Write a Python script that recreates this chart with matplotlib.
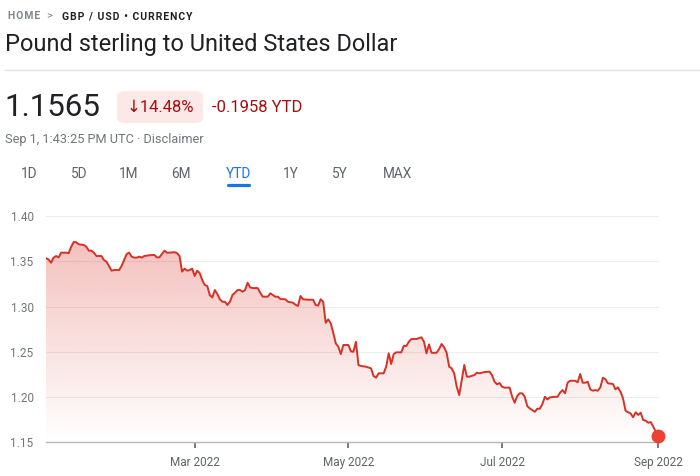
"""GBP/USD year-to-date chart, styled like the Google Finance quote page."""

import numpy as np
import pandas as pd
import matplotlib
matplotlib.use('Agg')
import matplotlib.pyplot as plt
import matplotlib.dates as mdates
from matplotlib.patches import FancyBboxPatch
from matplotlib.lines import Line2D

plt.rcParams['font.family'] = ['Roboto', 'DejaVu Sans']

# days since 2022-01-01 and GBP/USD rate
days = [0, 1, 2, 3, 4, 5, 6, 8, 9, 10, 11, 12, 13, 15, 16, 17, 18, 19, 20, 22,
        23, 24, 25, 26, 27, 29, 30, 31, 32, 33, 34, 35, 36, 37, 38, 39, 41, 43,
        44, 45, 46, 47, 48, 49, 51, 52, 53, 54, 55, 56, 57, 58, 59, 60, 61, 62,
        63, 64, 65, 66, 67, 68, 69, 70, 71, 72, 73, 74, 75, 76, 77, 78, 79, 80,
        81, 82, 84, 85, 86, 88, 89, 90, 91, 92, 93, 95, 96, 98, 99, 100, 101,
        102, 104, 106, 107, 108, 109, 110, 111, 112, 113, 114, 115, 116, 117,
        118, 120, 121, 122, 123, 124, 125, 127, 129, 130, 131, 132, 134, 135,
        136, 137, 138, 139, 141, 142, 143, 144, 145, 147, 149, 150, 151, 152,
        153, 155, 156, 157, 158, 159, 160, 161, 162, 163, 164, 165, 166, 167,
        168, 170, 171, 172, 174, 176, 177, 178, 179, 180, 181, 182, 184, 185,
        186, 187, 188, 189, 190, 191, 192, 194, 195, 196, 197, 198, 199, 200,
        202, 203, 204, 205, 206, 207, 208, 210, 211, 212, 213, 214, 215, 216,
        217, 218, 219, 220, 221, 222, 223, 225, 226, 227, 228, 229, 230, 231,
        232, 233, 234, 235, 236, 237, 238, 239, 240, 241, 242, 243]
rates = [1.3533, 1.3520, 1.3484, 1.3540, 1.3558, 1.3543, 1.3595, 1.3595, 1.3590,
         1.3660, 1.3713, 1.3710, 1.3687, 1.3680, 1.3660, 1.3617, 1.3617, 1.3595,
         1.3558, 1.3558, 1.3514, 1.3495, 1.3448, 1.3396, 1.3403, 1.3403, 1.3448,
         1.3514, 1.3580, 1.3595, 1.3551, 1.3540, 1.3540, 1.3551, 1.3540, 1.3558,
         1.3566, 1.3570, 1.3543, 1.3543, 1.3580, 1.3617, 1.3595, 1.3595, 1.3600,
         1.3590, 1.3558, 1.3385, 1.3419, 1.3396, 1.3403, 1.3419, 1.3337, 1.3396,
         1.3370, 1.3293, 1.3238, 1.3227, 1.3127, 1.3100, 1.3182, 1.3138, 1.3080,
         1.3053, 1.3053, 1.3017, 1.3053, 1.3127, 1.3153, 1.3182, 1.3182, 1.3164,
         1.3182, 1.3263, 1.3212, 1.3204, 1.3204, 1.3153, 1.3109, 1.3109, 1.3146,
         1.3127, 1.3109, 1.3109, 1.3083, 1.3080, 1.3053, 1.3042, 1.3020, 1.3006,
         1.3116, 1.3080, 1.3075, 1.3075, 1.3017, 1.3010, 1.3080, 1.3053, 1.2820,
         1.2858, 1.2814, 1.2710, 1.2593, 1.2556, 1.2475, 1.2575, 1.2575, 1.2506,
         1.2500, 1.2611, 1.2354, 1.2343, 1.2335, 1.2317, 1.2232, 1.2214, 1.2262,
         1.2262, 1.2335, 1.2483, 1.2365, 1.2475, 1.2494, 1.2494, 1.2567, 1.2564,
         1.2611, 1.2641, 1.2641, 1.2660, 1.2611, 1.2483, 1.2582, 1.2489, 1.2489,
         1.2530, 1.2586, 1.2549, 1.2489, 1.2335, 1.2317, 1.2262, 1.2114, 1.2022,
         1.2188, 1.2354, 1.2225, 1.2225, 1.2243, 1.2269, 1.2262, 1.2276, 1.2280,
         1.2243, 1.2169, 1.2140, 1.2155, 1.2114, 1.2104, 1.2104, 1.2003, 1.1937,
         1.2011, 1.2041, 1.2041, 1.2003, 1.1900, 1.1874, 1.1837, 1.1871, 1.1871,
         1.1923, 1.2003, 1.1974, 1.1996, 1.2003, 1.2003, 1.2048, 1.2077, 1.2041,
         1.2158, 1.2180, 1.2180, 1.2163, 1.2254, 1.2158, 1.2158, 1.2169, 1.2085,
         1.2070, 1.2077, 1.2070, 1.2107, 1.2214, 1.2196, 1.2152, 1.2144, 1.2085,
         1.2107, 1.2059, 1.1985, 1.1849, 1.1831, 1.1820, 1.1776, 1.1831, 1.1802,
         1.1827, 1.1746, 1.1739, 1.1716, 1.1724, 1.1672, 1.1616, 1.1565]

ytick_values = [1.15, 1.20, 1.25, 1.30, 1.35, 1.40]
month_ticks = ['2022-03-01', '2022-05-01', '2022-07-01', '2022-09-01']
tabs = ['1D', '5D', '1M', '6M', 'YTD', '1Y', '5Y', 'MAX']
selected_tab = 'YTD'

dates = pd.Timestamp('2022-01-01') + pd.to_timedelta(days, unit='D')

W, H = 700, 476
RED = '#d93025'
GREY = '#70757a'


def fx(px):
    return px / W


def fy(py):
    return 1 - py / H


def spaced(s):
    # crude letter spacing for the breadcrumb caps
    return '\u200a'.join(s)


fig = plt.figure(figsize=(7, 4.76), dpi=100)

# header
fig.text(fx(8), fy(16), spaced('HOME'), fontsize=7.5, fontweight='bold', color='#80868b',
         va='center')
fig.text(fx(49), fy(16), '>', fontsize=8, color='#80868b', va='center', ha='center')
fig.text(fx(62), fy(16), spaced('GBP / USD • CURRENCY'), fontsize=7.5, fontweight='bold',
         color='#202124', va='center')
fig.text(fx(5), fy(45), 'Pound sterling to United States Dollar', fontsize=17,
         color='#202124', va='center')
fig.add_artist(Line2D([fx(5), 1], [fy(70), fy(70)], color='#e0e0e0', lw=1))

# quote
fig.text(fx(4), fy(108), '1.1565', fontsize=22.5, color='#202124', va='center')
fig.add_artist(FancyBboxPatch((fx(117), fy(123)), fx(86), 32 / H,
                              boxstyle='round,pad=0,rounding_size=0.012',
                              facecolor='#fce8e6', edgecolor='none',
                              transform=fig.transFigure))
fig.text(fx(160), fy(107), '↓14.48%', fontsize=12, color='#a50e0e', va='center',
         ha='center', family=['Roboto', 'DejaVu Sans'])
fig.text(fx(212), fy(107), '-0.1958 YTD', fontsize=12, color='#a50e0e', va='center')
fig.text(fx(5), fy(139), 'Sep 1, 1:43:25 PM UTC · Disclaimer', fontsize=9.2,
         color=GREY, va='center')

# range tabs
tab_x = [29, 79, 129, 181, 238, 291, 340, 397]
for label, x in zip(tabs, tab_x):
    color = '#1a73e8' if label == selected_tab else '#5f6368'
    fig.text(fx(x), fy(174), label, fontsize=9.8, color=color, ha='center', va='center')
    if label == selected_tab:
        fig.add_artist(Line2D([fx(x - 10), fx(x + 11)], [fy(185), fy(185)],
                              color='#1a73e8', lw=2.3, solid_capstyle='round'))

# chart
ax = fig.add_axes([fx(46), 1 - 442.3 / H, (658.3 - 46) / W, (442.3 - 216) / H])
ax.plot(dates, rates, color=RED, lw=1.4, zorder=3)

# gradient fill under the line
x0, x1 = mdates.date2num(dates[0]), mdates.date2num(dates[-1])
top = max(rates)
grad = np.zeros((256, 1, 4))
grad[..., :3] = matplotlib.colors.to_rgb(RED)
grad[:, 0, 3] = np.linspace(0, 0.3, 256)
im = ax.imshow(grad, extent=[x0, x1, ytick_values[0], top], origin='lower',
               aspect='auto', zorder=1, interpolation='bilinear')
poly = ax.fill_between(dates, rates, ytick_values[0], facecolor='none', edgecolor='none')
im.set_clip_path(poly.get_paths()[0], transform=ax.transData)

ax.plot(dates[-1], rates[-1], 'o', ms=9, color='#ea4335', clip_on=False, zorder=5)

ax.set_xlim(pd.Timestamp('2022-01-01'), pd.Timestamp('2022-09-01'))
ax.set_ylim(ytick_values[0], ytick_values[-1])
ax.set_yticks(ytick_values)
ax.set_yticklabels([f'{v:.2f}' for v in ytick_values])
ax.set_xticks(pd.to_datetime(month_ticks))
ax.xaxis.set_major_formatter(mdates.DateFormatter('%b %Y'))

ax.yaxis.grid(True, color='#ededed', lw=0.8)
ax.set_axisbelow(True)
for gl in ax.get_ygridlines():
    gl.set_clip_on(False)
for side in ['top', 'left', 'right']:
    ax.spines[side].set_visible(False)
ax.spines['bottom'].set_color('#b7b7b7')
ax.spines['bottom'].set_linewidth(1)
ax.tick_params(axis='y', length=0, pad=9, labelsize=8.5, labelcolor=GREY)
ax.tick_params(axis='x', length=4, width=1.2, color='#5f6368', pad=6,
               labelsize=8.5, labelcolor='#5f6368')

fig.savefig('out.png', dpi=100)
